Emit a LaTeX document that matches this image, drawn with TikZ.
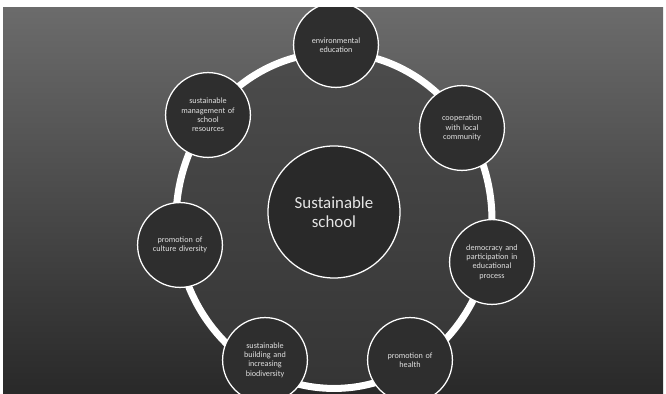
\documentclass[tikz,border=0pt]{standalone}
\usepackage{fontspec}
\setmainfont{Carlito}
\usetikzlibrary{positioning}

\begin{document}
\begin{tikzpicture}[x=0.025cm,y=0.025cm,font=\fontsize{5.8}{6.6}\selectfont,
 topic/.style={circle,draw=white,line width=0.9pt,fill=black!82,text=white!88!black,
   minimum size=2.12cm,inner sep=1pt,align=center,text width=1.45cm},
 hub/.style={circle,draw=white,line width=0.9pt,fill=black!84,text=white!90!black,
   minimum size=3.3cm,align=center,font=\fontsize{12}{13.5}\selectfont},
 ring/.style={draw=white,line width=5pt}]
\useasboundingbox (0,0) rectangle (666,394);
\fill[white] (0,0) rectangle (666,394);
\shade[top color=black!58,bottom color=black!84] (3,0) rectangle (663,386);
\fill[black!76,opacity=0.6] (334,176) ellipse [x radius=158, y radius=166];
\node[hub] (c) at (334,182) {Sustainable\\school};
\draw[ring] ([yshift=-6]c.center) ellipse [x radius=158, y radius=168];
\begin{scope}
\clip (3,0) rectangle (663,386);
\node[topic] (env) at ([shift={(2,167)}]c.center) {environmental\\education};
\node[topic] (res) at ([shift={(-126,97)}]c.center) {sustainable\\management of\\school\\resources};
\node[topic] (cul) at ([shift={(-154,-33)}]c.center) {promotion of\\culture diversity};
\node[topic] (bio) at ([shift={(-69,-148)}]c.center) {sustainable\\building and\\increasing\\biodiversity};
\node[topic] (hea) at ([shift={(76,-148)}]c.center) {promotion of\\health};
\node[topic] (dem) at ([shift={(158,-50)}]c.center) {democracy and\\participation in\\educational\\process};
\node[topic] (com) at ([shift={(128,84)}]c.center) {cooperation\\with local\\community};
\end{scope}
\end{tikzpicture}
\end{document}
